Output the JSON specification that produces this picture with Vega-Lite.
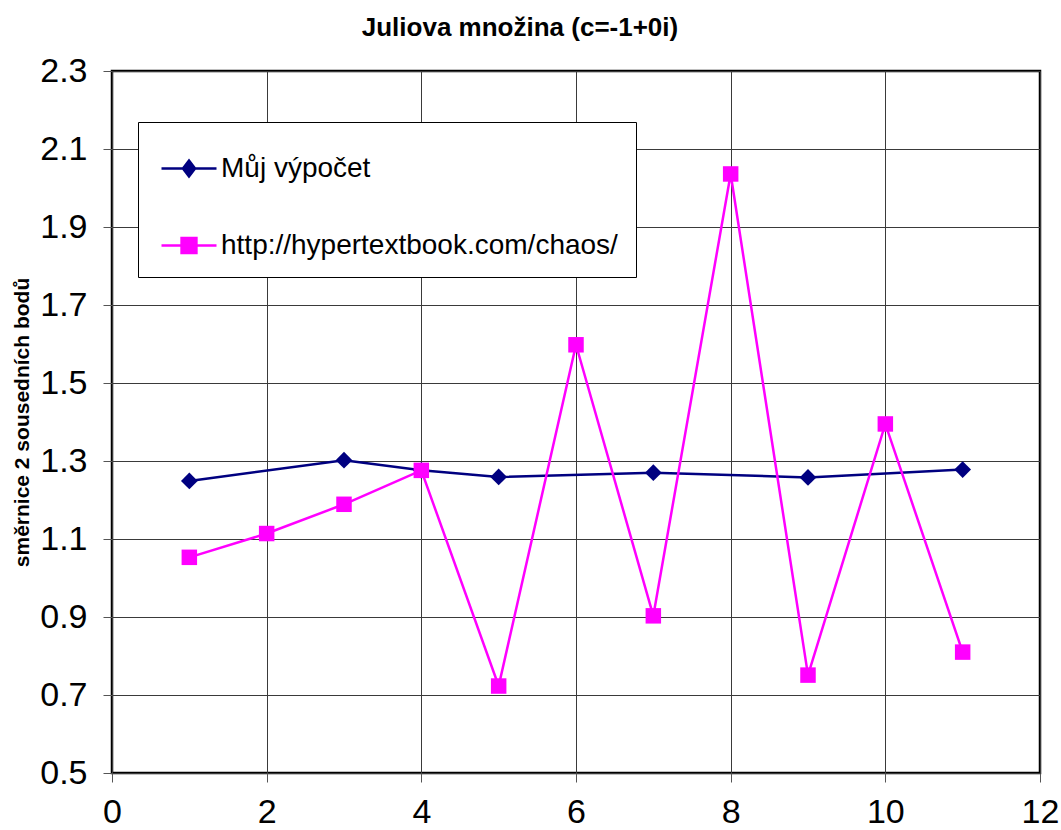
{
  "$schema": "https://vega.github.io/schema/vega-lite/v6.json",
  "width": 928,
  "height": 702,
  "autosize": {"type": "none"},
  "padding": {"left": 112, "top": 71, "right": 21, "bottom": 57},
  "background": "white",
  "config": {
    "font": "Liberation Sans",
    "view": {"stroke": "black", "strokeWidth": 2.5},
    "axis": {
      "grid": true,
      "gridColor": "#3a3a3a",
      "gridWidth": 1,
      "gridOpacity": 1,
      "domain": false,
      "tickColor": "#555555",
      "tickSize": 9,
      "tickWidth": 1,
      "labelFont": "Liberation Sans",
      "labelFontSize": 34,
      "labelColor": "black",
      "labelFlush": false,
      "labelOverlap": false
    },
    "legend": {
      "strokeColor": "black",
      "fillColor": "white",
      "padding": 17.5,
      "rowPadding": 34,
      "symbolSize": 3025,
      "symbolOffset": 4.5,
      "symbolStrokeWidth": 2.5,
      "symbolOpacity": 1,
      "labelOffset": 3,
      "labelFont": "Liberation Sans",
      "labelFontSize": 28,
      "labelColor": "black",
      "labelLimit": 600
    }
  },
  "title": {
    "text": "Juliova množina (c=-1+0i)",
    "font": "Liberation Sans",
    "fontSize": 26,
    "fontWeight": "bold",
    "color": "black",
    "anchor": "middle",
    "frame": "group",
    "dx": -56,
    "offset": 13
  },
  "data": {
    "values": [
      {"x": 1, "y": 1.249, "s": "Můj výpočet"},
      {"x": 3, "y": 1.302, "s": "Můj výpočet"},
      {"x": 4, "y": 1.276, "s": "Můj výpočet"},
      {"x": 5, "y": 1.259, "s": "Můj výpočet"},
      {"x": 7, "y": 1.270, "s": "Můj výpočet"},
      {"x": 9, "y": 1.258, "s": "Můj výpočet"},
      {"x": 11, "y": 1.278, "s": "Můj výpočet"},
      {"x": 1, "y": 1.053, "s": "http://hypertextbook.com/chaos/"},
      {"x": 2, "y": 1.114, "s": "http://hypertextbook.com/chaos/"},
      {"x": 3, "y": 1.189, "s": "http://hypertextbook.com/chaos/"},
      {"x": 4, "y": 1.276, "s": "http://hypertextbook.com/chaos/"},
      {"x": 5, "y": 0.723, "s": "http://hypertextbook.com/chaos/"},
      {"x": 6, "y": 1.598, "s": "http://hypertextbook.com/chaos/"},
      {"x": 7, "y": 0.903, "s": "http://hypertextbook.com/chaos/"},
      {"x": 8, "y": 2.036, "s": "http://hypertextbook.com/chaos/"},
      {"x": 9, "y": 0.751, "s": "http://hypertextbook.com/chaos/"},
      {"x": 10, "y": 1.395, "s": "http://hypertextbook.com/chaos/"},
      {"x": 11, "y": 0.81, "s": "http://hypertextbook.com/chaos/"}
    ]
  },
  "encoding": {
    "x": {
      "field": "x",
      "type": "quantitative",
      "scale": {"domain": [0, 12], "nice": false, "zero": false},
      "axis": {"values": [0, 2, 4, 6, 8, 10, 12], "title": null, "labelPadding": 13, "format": "d"}
    },
    "y": {
      "field": "y",
      "type": "quantitative",
      "scale": {"domain": [0.5, 2.3], "nice": false, "zero": false},
      "axis": {
        "values": [0.5, 0.7, 0.9, 1.1, 1.3, 1.5, 1.7, 1.9, 2.1, 2.3],
        "format": ".1f",
        "labelPadding": 16,
        "title": "směrnice 2 sousedních bodů",
        "titleFont": "Liberation Sans",
        "titleFontSize": 21,
        "titleFontWeight": "bold",
        "titleColor": "black",
        "titleAngle": -90,
        "titleAlign": "center",
        "titleBaseline": "middle",
        "titleX": -90,
        "titleY": 351
      }
    }
  },
  "layer": [
    {
      "mark": {"type": "point", "filled": true, "opacity": 0, "strokeWidth": 2.5},
      "encoding": {
        "fill": {
          "field": "s",
          "type": "nominal",
          "scale": {
            "domain": ["Můj výpočet", "http://hypertextbook.com/chaos/"],
            "range": ["#000080", "#ff00ff"]
          },
          "legend": {"title": null, "orient": "none", "legendX": 26, "legendY": 51, "direction": "vertical", "symbolOpacity": 1}
        },
        "stroke": {
          "field": "s",
          "type": "nominal",
          "scale": {
            "domain": ["Můj výpočet", "http://hypertextbook.com/chaos/"],
            "range": ["#000080", "#ff00ff"]
          },
          "legend": {"title": null, "orient": "none", "legendX": 26, "legendY": 51, "direction": "vertical", "symbolOpacity": 1}
        },
        "shape": {
          "field": "s",
          "type": "nominal",
          "scale": {
            "domain": ["Můj výpočet", "http://hypertextbook.com/chaos/"],
            "range": ["M-1,0H1M0,-0.29L0.22,0L0,0.29L-0.22,0Z", "M-1,0H1M-0.27,-0.27H0.27V0.27H-0.27Z"]
          },
          "legend": {"title": null, "orient": "none", "legendX": 26, "legendY": 51, "direction": "vertical", "symbolOpacity": 1}
        }
      }
    },
    {
      "mark": {"type": "line", "strokeWidth": 2.5},
      "encoding": {
        "color": {
          "field": "s",
          "type": "nominal",
          "scale": {
            "domain": ["Můj výpočet", "http://hypertextbook.com/chaos/"],
            "range": ["#000080", "#ff00ff"]
          },
          "legend": null
        }
      }
    },
    {
      "transform": [{"filter": "datum.s === 'Můj výpočet'"}],
      "mark": {"type": "point", "filled": true, "opacity": 1, "shape": "diamond", "size": 280, "color": "#000080"}
    },
    {
      "transform": [{"filter": "datum.s !== 'Můj výpočet'"}],
      "mark": {"type": "point", "filled": true, "opacity": 1, "shape": "square", "size": 240, "color": "#ff00ff"}
    }
  ]
}
